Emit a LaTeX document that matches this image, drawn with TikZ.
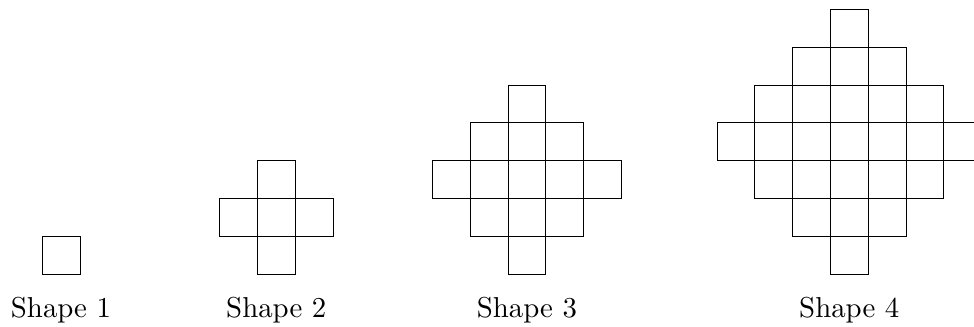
\documentclass[tikz,border=0pt]{standalone}
\usepackage{tikz}
\tikzstyle{cell} = [draw, line width=0.6pt]
\tikzstyle{caption} = [anchor=base, scale=2.17, transform shape]

\begin{document}
\begin{tikzpicture}
  \clip (0,0) rectangle (25.77,8.65);

  % shape n: all cells with |i|+|j| < n around the centre cell
  \foreach \n/\cx in {1/1.614, 2/7.31, 3/13.94, 4/22.47} {
    \pgfmathtruncatemacro{\rad}{\n-1}
    \pgfmathtruncatemacro{\lo}{-\rad}
    \foreach \i in {\lo,...,\rad} {
      \pgfmathtruncatemacro{\hi}{\rad-abs(\i)}
      \pgfmathtruncatemacro{\hlo}{-\hi}
      \foreach \j in {\hlo,...,\hi} {
        \draw[cell] ({\cx+\i-0.5},{1.4+\rad+\j}) rectangle ++(1,1);
      }
    }
    \node[caption] (shape\n) at (\cx,0.25) {Shape \n};
  }
\end{tikzpicture}
\end{document}
